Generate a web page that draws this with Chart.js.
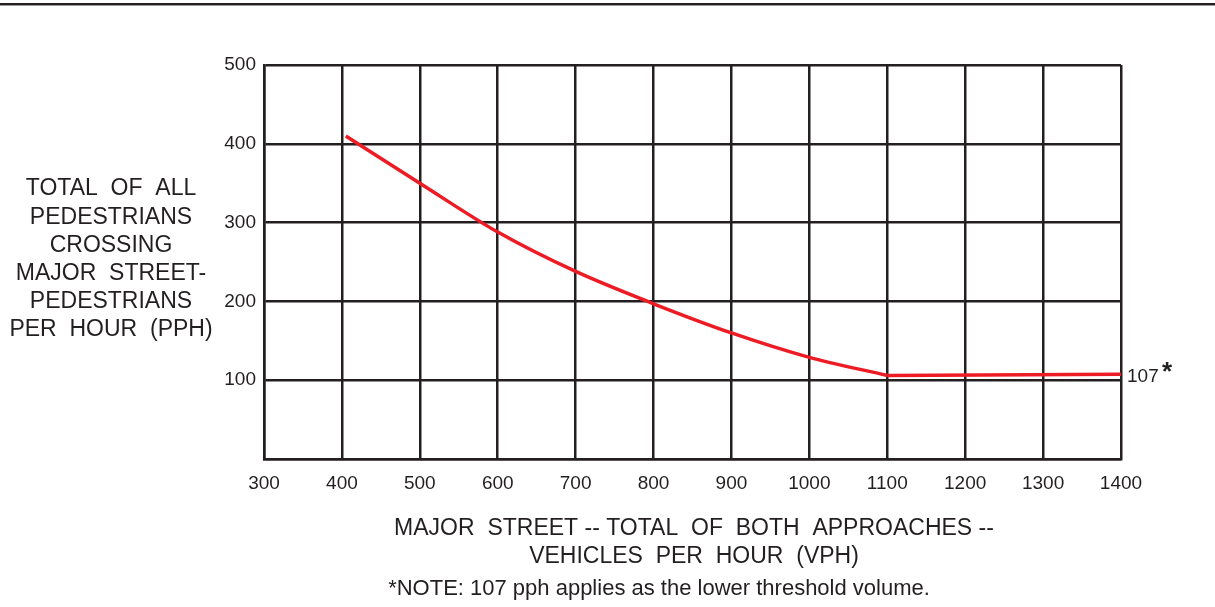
<!DOCTYPE html>
<html>
<head>
<meta charset="utf-8">
<script src="https://cdn.jsdelivr.net/npm/chart.js@4.4.1/dist/chart.umd.min.js"></script>
<style>
  html, body { margin: 0; padding: 0; background: #fff; }
  canvas { display: block; }
</style>
</head>
<body>
<canvas id="chart" width="1215" height="607"></canvas>
<script>
// descending curve: vehicles per hour (x) vs pedestrians per hour (y)
const curveVph = [405, 500, 600, 700, 800, 900, 1000, 1100];
const curvePph = [410, 350, 288, 238, 197, 160, 129, 106];
// lower threshold segment
const floorVph = [1100, 1400];
const floorPph = [106, 107.5];
const xTicks = [300, 400, 500, 600, 700, 800, 900, 1000, 1100, 1200, 1300, 1400];
const yTicks = [100, 200, 300, 400, 500];
const yTitle = ['TOTAL  OF  ALL', 'PEDESTRIANS', 'CROSSING', 'MAJOR  STREET-', 'PEDESTRIANS', 'PER  HOUR  (PPH)'];
const xTitle = ['MAJOR  STREET -- TOTAL  OF  BOTH  APPROACHES --', 'VEHICLES  PER  HOUR  (VPH)'];
const note = '*NOTE: 107 pph applies as the lower threshold volume.';

const FONT = '"Liberation Sans", Arial, sans-serif';
const INK = '#231f20';
const RED = '#ed1c24';

const extras = {
  id: 'extras',
  afterDraw(chart) {
    const ctx = chart.ctx;
    const area = chart.chartArea;
    const ys = chart.scales.y;
    ctx.save();
    // rule at the top of the page
    ctx.fillStyle = INK;
    ctx.fillRect(0, 3, chart.width, 2);
    ctx.fillStyle = '#9a9a9a';
    ctx.fillRect(0, 5, chart.width, 1);

    ctx.fillStyle = INK;
    ctx.textAlign = 'center';
    ctx.textBaseline = 'middle';
    ctx.font = '23px ' + FONT;
    yTitle.forEach((t, i) => ctx.fillText(t, 111, 189 + i * 28.2));
    xTitle.forEach((t, i) => ctx.fillText(t, 694, 529 + i * 28));
    ctx.font = '22px ' + FONT;
    ctx.fillText(note, 659, 589);

    // end label
    const yEnd = ys.getPixelForValue(floorPph[floorPph.length - 1]);
    ctx.textAlign = 'left';
    ctx.font = '19px ' + FONT;
    ctx.fillText('107', area.right + 6, yEnd + 2);
    ctx.font = 'bold 26px ' + FONT;
    ctx.fillText('*', area.right + 41, yEnd - 1);
    ctx.restore();
  }
};

const lineStyle = {
  borderColor: RED,
  borderWidth: 3.5,
  pointRadius: 0,
  fill: false
};

new Chart(document.getElementById('chart'), {
  type: 'line',
  data: {
    datasets: [
      Object.assign({
        data: curveVph.map((v, i) => ({ x: v, y: curvePph[i] })),
        cubicInterpolationMode: 'monotone'
      }, lineStyle),
      Object.assign({
        data: floorVph.map((v, i) => ({ x: v, y: floorPph[i] }))
      }, lineStyle)
    ]
  },
  options: {
    responsive: false,
    animation: false,
    layout: { padding: { left: 214, right: 94, top: 65, bottom: 108 } },
    plugins: { legend: { display: false }, tooltip: { enabled: false } },
    scales: {
      x: {
        type: 'linear', min: 300, max: 1400,
        afterBuildTicks: s => { s.ticks = xTicks.map(v => ({ value: v })); },
        afterFit: s => { s.height = 40; },
        grid: { color: INK, lineWidth: 2.5, drawTicks: false },
        border: { color: INK, width: 2.5 },
        ticks: {
          padding: 13, color: INK, font: { family: FONT, size: 19 },
          callback: v => String(v)
        }
      },
      y: {
        min: 0, max: 500,
        afterBuildTicks: s => { s.ticks = [0].concat(yTicks).map(v => ({ value: v })); },
        afterFit: s => { s.width = 50; },
        grid: { color: INK, lineWidth: 2.5, drawTicks: false },
        border: { color: INK, width: 2.5 },
        ticks: {
          padding: 8, color: INK, font: { family: FONT, size: 19 },
          callback: v => v === 0 ? '' : String(v)
        }
      }
    }
  },
  plugins: [extras]
});
</script>
</body>
</html>
